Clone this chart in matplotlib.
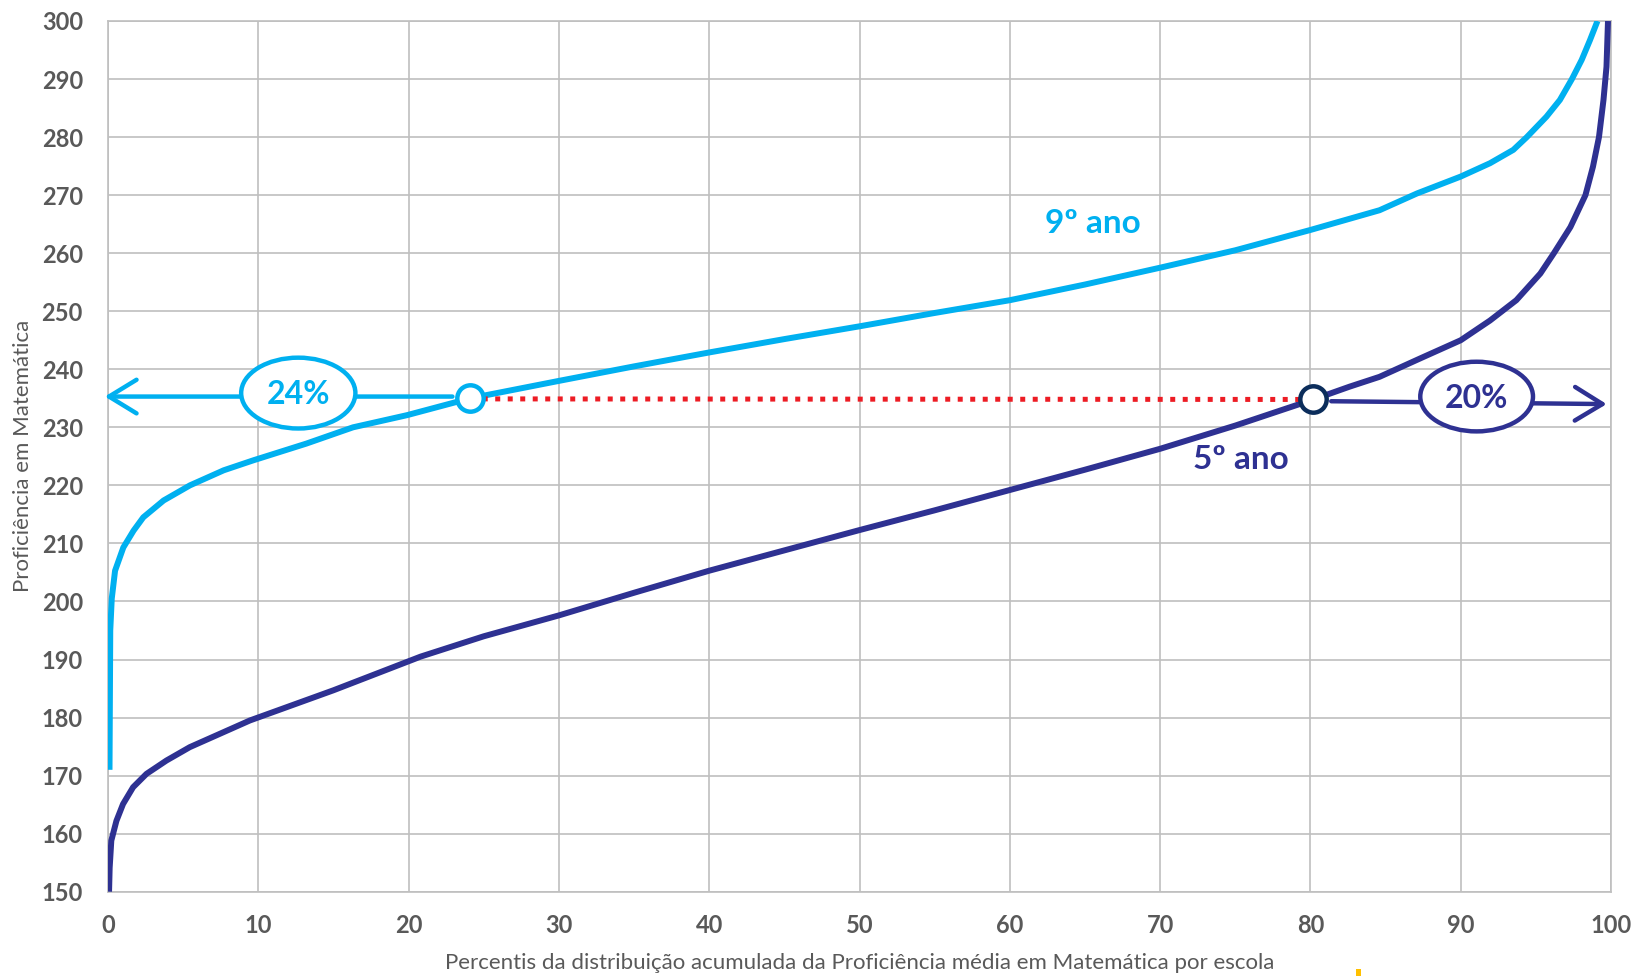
import matplotlib
matplotlib.use("Agg")
from matplotlib import pyplot as plt
from matplotlib.patches import Ellipse, FancyArrowPatch, Rectangle

plt.rcParams['font.family'] = ['Lato', 'DejaVu Sans']

# 9º ano curve (percentil, proficiência)
x9 = [0.1, 0.15, 0.25, 0.47, 1.02, 1.7, 2.35, 3.7, 5.45, 7.7, 9.65, 13.2, 16.3, 19.9, 24.1,
      30, 35, 40, 45, 50, 55, 60, 65, 70, 75, 80, 84.6, 87.1, 90, 91.95, 93.5, 94.4, 95.7,
      96.6, 97.4, 98.05, 98.6, 99.1]
y9 = [171, 195, 200.5, 205.3, 209.3, 212.2, 214.5, 217.4, 220, 222.6, 224.3, 227.2, 230, 232.1, 235,
      238, 240.5, 242.9, 245.2, 247.4, 249.7, 251.9, 254.6, 257.5, 260.5, 264, 267.4, 270.3,
      273.2, 275.5, 277.8, 280, 283.5, 286.4, 290, 293.3, 296.7, 300]

# 5º ano curve
x5 = [0.07, 0.11, 0.22, 0.56, 1.0, 1.67, 2.56, 3.89, 5.44, 7.44, 9.44, 11.9, 15.0, 17.9, 20.8,
      25, 30, 35, 40, 45, 50, 55, 60, 65, 70, 75, 80.2, 82.6, 84.6, 87.5, 90, 91.95, 93.7,
      95.3, 96.2, 97.3, 98.3, 98.8, 99.2, 99.5, 99.7, 99.8]
y5 = [150, 154.1, 158.8, 162.2, 165.1, 168, 170.3, 172.6, 174.9, 177.2, 179.5, 181.8, 184.7,
      187.6, 190.5, 194, 197.6, 201.5, 205.3, 208.8, 212.3, 215.7, 219.2, 222.7, 226.3, 230.3,
      234.8, 237, 238.7, 242.1, 245, 248.4, 251.9, 256.5, 260, 264.5, 270, 274.9, 280, 286.4,
      292.1, 300]

# pontos de corte
corte_9 = (24.1, 235.0)
corte_5 = (80.2, 234.8)
pct_9 = "24%"
pct_5 = "20%"

xticks = list(range(0, 101, 10))
yticks = list(range(150, 301, 10))

c9 = '#00B0F0'
c5 = '#2E3192'
grid_c = '#BFBFBF'
tick_c = '#595959'

fig = plt.figure(figsize=(16.34, 9.76), dpi=100)
ax = fig.add_axes([108/1634, (976-891.7)/976, (1611-108)/1634, (891.7-21)/976])

ax.set_xlim(0, 100)
ax.set_ylim(150, 300)
ax.set_xticks(xticks)
ax.set_yticks(yticks)
ax.grid(True, color=grid_c, lw=1.2)
ax.set_axisbelow(True)
for s in ax.spines.values():
    s.set_color(grid_c)
    s.set_linewidth(1.2)
ax.tick_params(length=0, labelsize=17, labelcolor=tick_c)
ax.tick_params(axis='y', pad=18)
ax.tick_params(axis='x', pad=16)
for lab in ax.get_xticklabels() + ax.get_yticklabels():
    lab.set_fontweight('bold')

ax.plot(x9, y9, color=c9, lw=4.3, solid_capstyle='butt', solid_joinstyle='round', zorder=3)
ax.plot(x5, y5, color=c5, lw=4.3, solid_capstyle='butt', solid_joinstyle='round', zorder=3)

# linha pontilhada vermelha
ax.plot([corte_9[0], corte_5[0]], [corte_9[1] - 0.1, corte_5[1]], color='#ED1C24', lw=3.6,
        linestyle=(0, (1, 1.5)), zorder=4)

# seta da esquerda (9º ano)
arr = FancyArrowPatch((corte_9[0] - 1, 235.3), (-0.4, 235.3), arrowstyle='->,head_length=0.9,head_width=0.55',
                      mutation_scale=22, color=c9, lw=3.2, clip_on=False, zorder=4)
ax.add_patch(arr)
ax.add_patch(Ellipse((12.66, 235.9), 7.6, 12.2, facecolor='white', edgecolor=c9, lw=3.2, zorder=5))
ax.text(12.66, 235.6, pct_9, color=c9, fontsize=23, fontweight='bold', ha='center', va='center', zorder=6)

# seta da direita (5º ano)
arr = FancyArrowPatch((corte_5[0] + 1, 234.5), (99.9, 234.0), arrowstyle='->,head_length=0.9,head_width=0.55',
                      mutation_scale=22, color=c5, lw=3.2, clip_on=False, zorder=4)
ax.add_patch(arr)
ax.add_patch(Ellipse((91.06, 235.3), 7.5, 12.0, facecolor='white', edgecolor=c5, lw=3.2, zorder=5))
ax.text(91.06, 235.0, pct_5, color=c5, fontsize=23, fontweight='bold', ha='center', va='center', zorder=6)

# marcadores
ax.plot(*corte_9, 'o', ms=19, mfc='white', mec=c9, mew=3.2, zorder=7)
ax.plot(*corte_5, 'o', ms=19, mfc='white', mec='#0B2D5B', mew=3.2, zorder=7)

ax.text(65.5, 265.2, "9º ano", color=c9, fontsize=24, fontweight='bold', ha='center', va='center')
ax.text(75.4, 224.5, "5º ano", color=c5, fontsize=24, fontweight='bold', ha='center', va='center')

fig.text(859.5/1634, 1 - 963/976, "Percentis da distribuição acumulada da Proficiência média em Matemática por escola",
         ha='center', va='center', fontsize=16, color=tick_c)
fig.text(23/1634, 1 - 456/976, "Proficiência em Matemática", rotation=90,
         ha='center', va='center', fontsize=16, color=tick_c)

# pequena marca amarela no rodapé
fig.add_artist(Rectangle((1356/1634, 0), 5/1634, 7/976, transform=fig.transFigure,
                         facecolor='#FFC000', edgecolor='none'))

fig.savefig('out.png', dpi=100)
